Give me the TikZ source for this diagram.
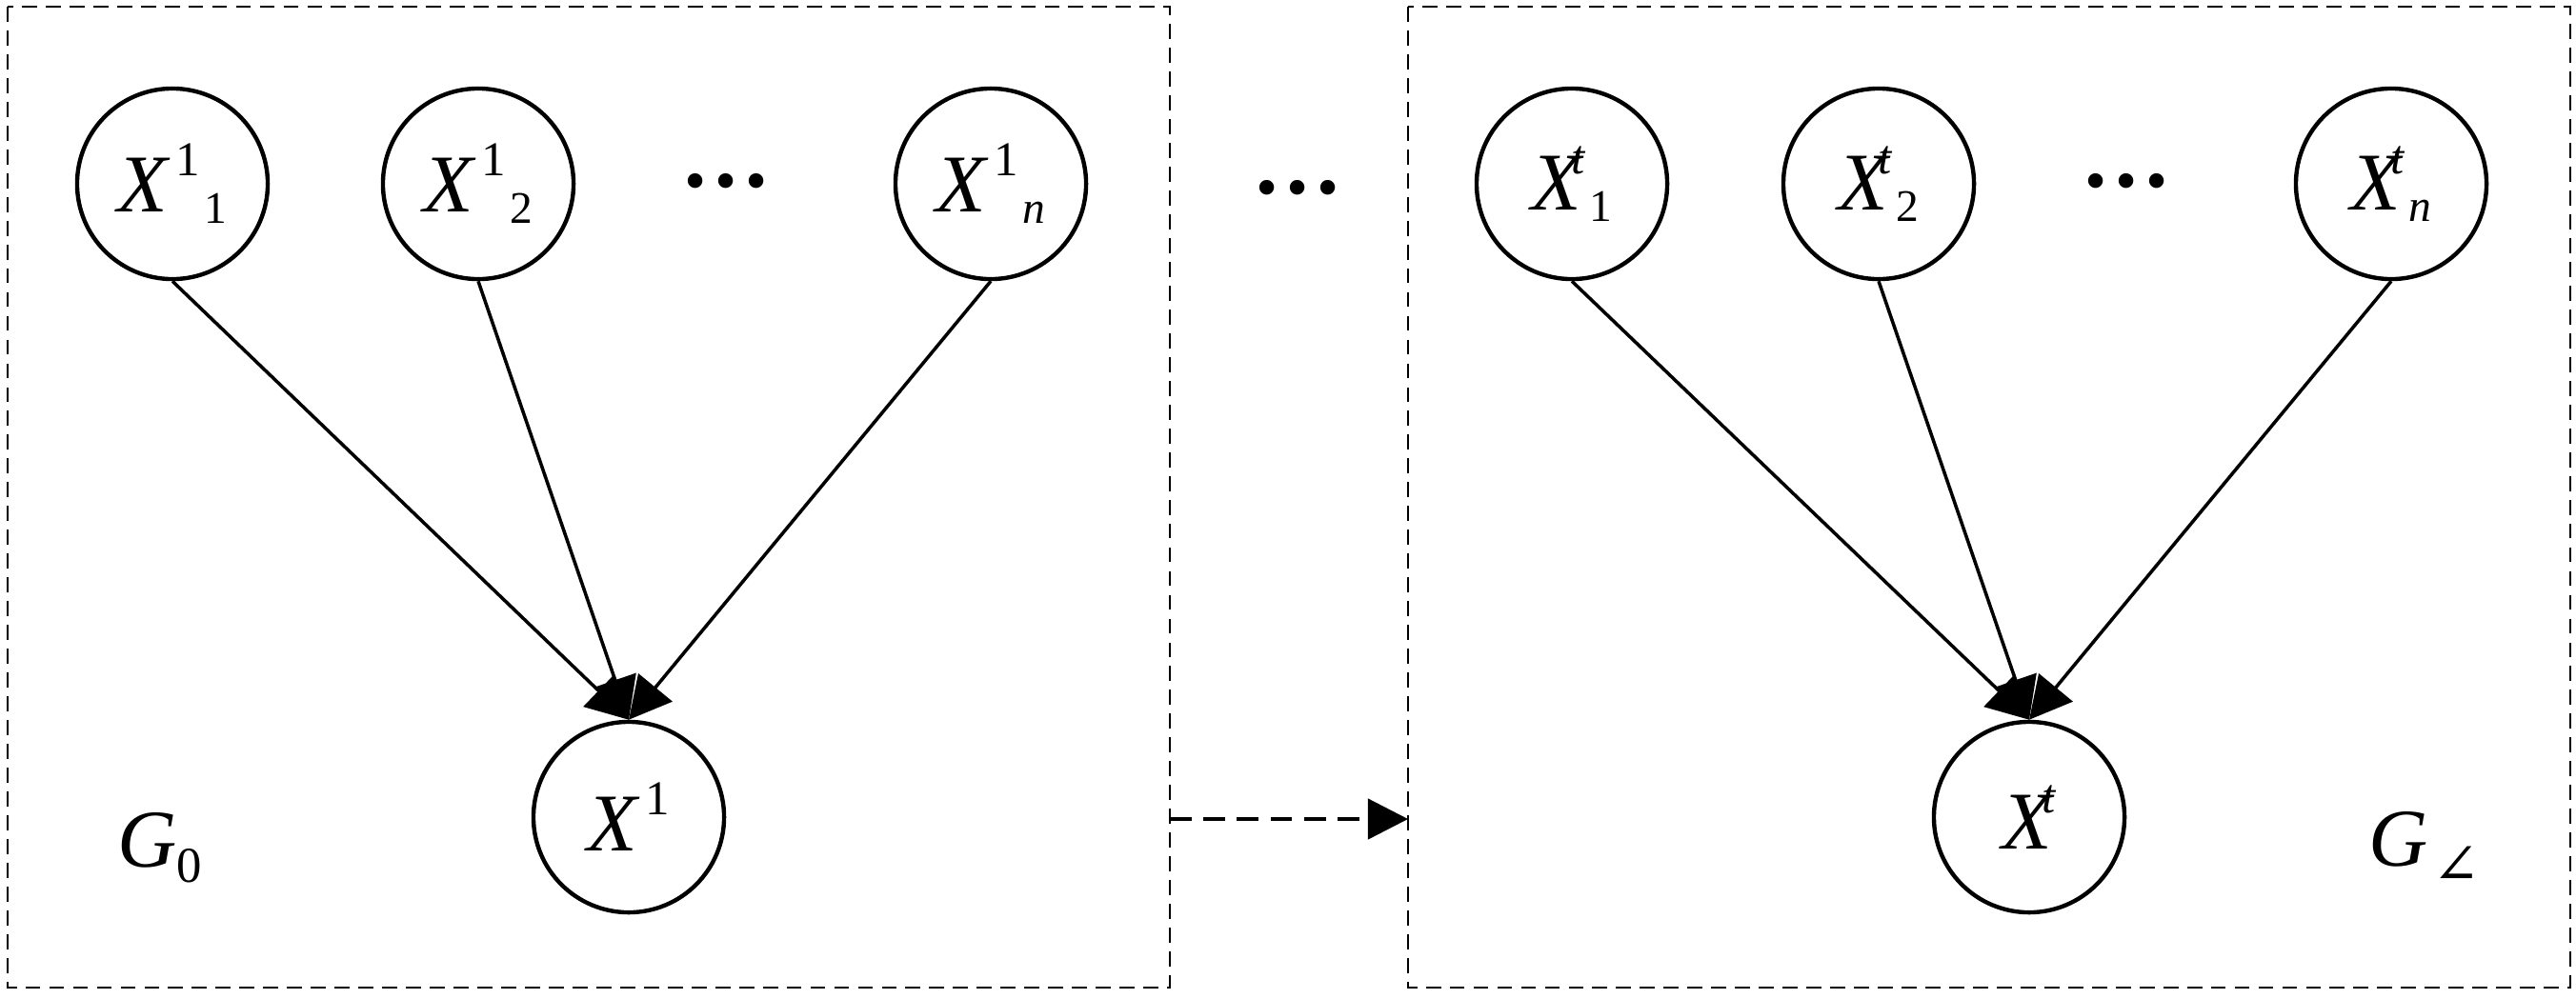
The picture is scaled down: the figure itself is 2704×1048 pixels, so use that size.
\documentclass[tikz,border=0pt]{standalone}
\usepackage{fontspec}
\setmainfont{Liberation Serif}
\newfontfamily\symfont{DejaVu Serif}
\usetikzlibrary{arrows.meta}
\newcommand\Xvar[3]{\textit{X}\kern#3\raisebox{0.44em}{\fontsize{14.5}{14.5}\selectfont #1}\kern0.05em\raisebox{-0.14em}{\fontsize{13.5}{13.5}\selectfont #2}}
\begin{document}
\begin{tikzpicture}[x=0.01cm,y=-0.01cm,
  var/.style={circle,draw,line width=1.25pt,minimum size=2cm,inner sep=0pt,font=\fontsize{24.5}{24.5}\selectfont},
  conn/.style={line width=1pt,-{Triangle[length=12.5pt,width=13pt]}},
  frame/.style={line width=0.75pt,dash pattern=on 4.5pt off 2.6pt},
  flow/.style={line width=1.2pt,dash pattern=on 6.5pt off 3.5pt,-{Triangle[length=12pt,width=12pt]}},
  dotsty/.style={font=\fontsize{27}{27}\selectfont\bfseries,inner sep=0pt},
  lbl/.style={font=\fontsize{24.5}{24.5}\selectfont,inner sep=0pt}]
\useasboundingbox (0,0) rectangle (2704,1048);
% frames
\draw[frame] (8,7) rectangle (1228,1037);
\draw[frame] (1478,7) rectangle (2698,1037);
\coordinate (Lr) at (1228,860);
\coordinate (Rl) at (1478,860);
% left graph
\node[var] (a1) at (181,193) {\Xvar{1}{1}{0.06em}};
\node[var] (a2) at (502,193) {\Xvar{1}{2}{0.06em}};
\node[dotsty] (ad) at (762,190) {…};
\node[var] (an) at (1040,193) {\Xvar{1}{\textit{n}}{0.06em}};
\node[var] (b1) at (660,858) {\textit{X}\kern0.06em\raisebox{0.44em}{\fontsize{14.5}{14.5}\selectfont 1}};
\node[lbl] (g0) at (168,890) {\textit{G}\raisebox{-0.18em}{\fontsize{15}{15}\selectfont 0}};
% middle dots
\node[dotsty] (md) at (1362,197) {…};
% right graph
\node[var] (c1) at (1650,193) {\Xvar{\textit{t}}{1}{-0.16em}};
\node[var] (c2) at (1972,193) {\Xvar{\textit{t}}{2}{-0.16em}};
\node[dotsty] (cd) at (2232,190) {…};
\node[var] (cn) at (2510,193) {\Xvar{\textit{t}}{\textit{n}}{-0.16em}};
\node[var] (d1) at (2130,858) {\textit{X}\kern-0.16em\raisebox{0.44em}{\fontsize{14.5}{14.5}\selectfont\textit{t}}};
\node[lbl] (gt) at (2545,890) {\textit{G}\kern0.06em\raisebox{-0.22em}{\symfont\fontsize{17}{17}\selectfont ∠}};
% connectors
\draw[conn] (a1.south) -- (b1.north);
\draw[conn] (a2.south) -- (b1.north);
\draw[conn] (an.south) -- (b1.north);
\draw[conn] (c1.south) -- (d1.north);
\draw[conn] (c2.south) -- (d1.north);
\draw[conn] (cn.south) -- (d1.north);
\draw[flow] (Lr) -- (Rl);
\end{tikzpicture}
\end{document}
